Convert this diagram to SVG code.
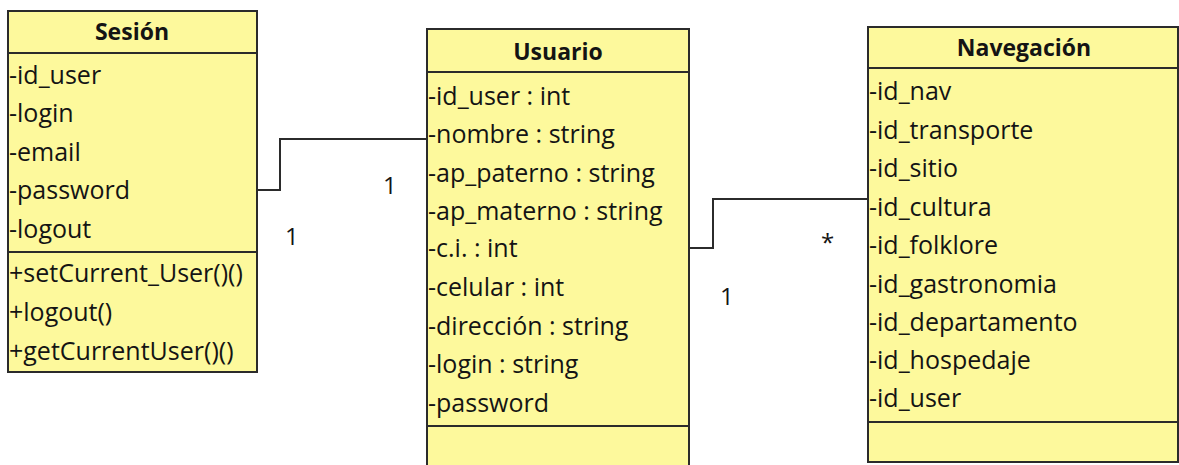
<svg xmlns="http://www.w3.org/2000/svg" width="1179" height="465" viewBox="0 0 1179 465">
<style>
.box{fill:#fdf99c;stroke:#2b2b2b;stroke-width:2}
.div{stroke:#2b2b2b;stroke-width:2}
.t{font-family:"Open Sans",Lato,sans-serif;font-size:25px;fill:#141414}
.h{font-family:"Open Sans",Lato,sans-serif;font-size:23px;font-weight:bold;fill:#141414;text-anchor:middle}
.c{fill:none;stroke:#2b2b2b;stroke-width:2}
.m{font-family:"Open Sans",Lato,sans-serif;font-size:24px;fill:#141414}
</style>
<rect width="1179" height="465" fill="#ffffff"/>
<g id="connectors">
<polyline class="c" points="257,190 280,190 280,139 427,139"/>
<polyline class="c" points="689,248 713,248 713,199 868,199"/>
<text class="m" x="383" y="194">1</text>
<text class="m" x="285" y="245">1</text>
<text class="m" x="720" y="305">1</text>
<text class="m" x="821" y="251">*</text>
</g>
<g id="sesion">
<rect class="box" x="8" y="11" width="249" height="361"/>
<line class="div" x1="8" y1="53" x2="257" y2="53"/>
<line class="div" x1="8" y1="252" x2="257" y2="252"/>
<text class="h" x="132" y="40">Sesión</text>
<text class="t" x="9" y="84">-id_user</text>
<text class="t" x="9" y="122">-login</text>
<text class="t" x="9" y="161">-email</text>
<text class="t" x="9" y="199">-password</text>
<text class="t" x="9" y="238">-logout</text>
<text class="t" x="9" y="282">+setCurrent_User()()</text>
<text class="t" x="9" y="321">+logout()</text>
<text class="t" x="9" y="360">+getCurrentUser()()</text>
</g>
<g id="usuario">
<rect class="box" x="427" y="29" width="262" height="445"/>
<line class="div" x1="427" y1="72" x2="689" y2="72"/>
<line class="div" x1="427" y1="426" x2="689" y2="426"/>
<text class="h" x="558" y="60">Usuario</text>
<text class="t" x="428" y="105">-id_user : int</text>
<text class="t" x="428" y="143">-nombre : string</text>
<text class="t" x="428" y="182">-ap_paterno : string</text>
<text class="t" x="428" y="220">-ap_materno : string</text>
<text class="t" x="428" y="257">-c.i. : int</text>
<text class="t" x="428" y="296">-celular : int</text>
<text class="t" x="428" y="335">-dirección : string</text>
<text class="t" x="428" y="373">-login : string</text>
<text class="t" x="428" y="412">-password</text>
</g>
<g id="navegacion">
<rect class="box" x="868" y="27" width="310" height="435"/>
<line class="div" x1="868" y1="68" x2="1178" y2="68"/>
<line class="div" x1="868" y1="422" x2="1178" y2="422"/>
<text class="h" x="1024" y="56">Navegación</text>
<text class="t" x="869" y="100">-id_nav</text>
<text class="t" x="869" y="139">-id_transporte</text>
<text class="t" x="869" y="177">-id_sitio</text>
<text class="t" x="869" y="216">-id_cultura</text>
<text class="t" x="869" y="254">-id_folklore</text>
<text class="t" x="869" y="293">-id_gastronomia</text>
<text class="t" x="869" y="331">-id_departamento</text>
<text class="t" x="869" y="369">-id_hospedaje</text>
<text class="t" x="869" y="407">-id_user</text>
</g>
</svg>
